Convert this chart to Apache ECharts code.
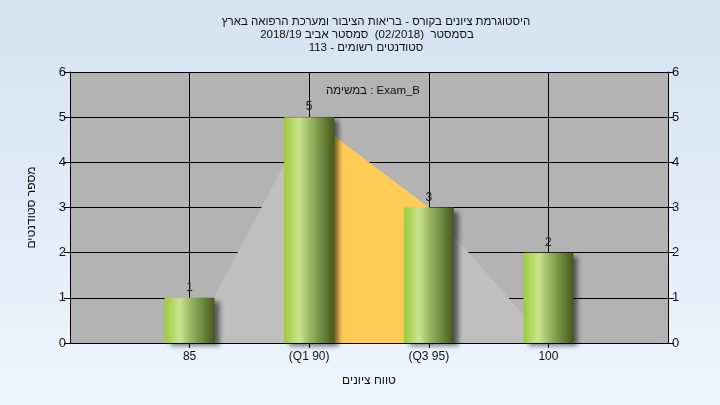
<!DOCTYPE html>
<html><head><meta charset="utf-8">
<script src="https://cdn.jsdelivr.net/npm/echarts@6/dist/echarts.min.js"></script>
<style>html,body{margin:0;padding:0;}#c{width:720px;height:405px;background:linear-gradient(180deg,#d5e2f2 0%,#eef5fd 100%);}</style>
</head><body><div id="c"></div>
<script>
var categories = ['', '85', '(Q1 90)', '(Q3 95)', '100', ''];
var counts = ['-', 1, 5, 3, 2, '-'];
var curveAll = ['-', 0, 5, 3, 0, '-'];
var curveIQR = ['-', '-', 5, 3, '-', '-'];
var yTicks = [0, 1, 2, 3, 4, 5, 6];
var titleLines = ['היסטוגרמת ציונים בקורס - בריאות הציבור ומערכת הרפואה בארץ', 'בסמסטר  (02/2018)  סמסטר אביב 2018/19', 'סטודנטים רשומים - 113'];
var subText = 'במשימה : Exam_B';
var xName = 'טווח ציונים';
var yName = 'מספר סטודנטים';

var chart = echarts.init(document.getElementById('c'), null, {renderer: 'canvas'});
var font = 'Arial, "Liberation Sans", sans-serif';
var barColor = new echarts.graphic.LinearGradient(0, 0, 1, 0, [
  {offset: 0, color: '#9dcb3b'},
  {offset: 0.3, color: '#c9e38f'},
  {offset: 0.6, color: '#8aa756'},
  {offset: 1, color: '#46591c'}
]);
var titleCenters = [371, 362, 361];
var titleTops = [11, 24, 37];
var titles = titleLines.map(function (t, i) {
  return {
    text: t, left: titleCenters[i], top: titleTops[i], textAlign: 'center',
    textStyle: {fontSize: 11.5, fontWeight: 'normal', color: '#111', fontFamily: font}
  };
});
titles.push({
  text: subText, left: 368, top: 80, textAlign: 'center',
  textStyle: {fontSize: 11.5, fontWeight: 'normal', color: '#111', fontFamily: font}
});
chart.setOption({
  animation: false,
  title: titles,
  grid: {left: 70, right: 52, top: 72, bottom: 62, backgroundColor: '#b3b3b3', show: true, borderWidth: 0},
  xAxis: {
    type: 'category', data: categories, boundaryGap: false,
    name: xName, nameLocation: 'middle', nameGap: 32,
    nameTextStyle: {fontSize: 12, color: '#111', fontFamily: font},
    axisLine: {show: true, lineStyle: {color: '#000', width: 1}},
    axisTick: {show: true, length: 5, lineStyle: {color: '#000'}, interval: function(i){return i>0 && i<5;}},
    axisLabel: {color: '#111', fontSize: 12, fontFamily: font, margin: 8, interval: 0},
    splitLine: {show: true, lineStyle: {color: '#000', width: 1}, interval: function(i){return i>0 && i<5;}}
  },
  yAxis: [{
    type: 'value', min: 0, max: 6, interval: 1, position: 'left',
    name: yName, nameLocation: 'middle', nameGap: 32,
    nameTextStyle: {fontSize: 12, color: '#111', fontFamily: font},
    axisLine: {show: true, lineStyle: {color: '#000'}},
    axisTick: {show: true, length: 6, lineStyle: {color: '#000'}},
    axisLabel: {color: '#111', fontSize: 13, fontFamily: font, margin: 4},
    splitLine: {show: true, lineStyle: {color: '#000', width: 1}}
  }, {
    type: 'value', min: 0, max: 6, interval: 1, position: 'right',
    axisLine: {show: true, lineStyle: {color: '#000'}},
    axisTick: {show: true, length: 6, lineStyle: {color: '#000'}},
    axisLabel: {color: '#111', fontSize: 13, fontFamily: font, margin: 4},
    splitLine: {show: false}
  }],
  series: [{
    type: 'line', data: curveAll, symbol: 'none', z: 1,
    lineStyle: {width: 0},
    areaStyle: {color: '#bfbfbf', opacity: 1}
  }, {
    type: 'line', data: curveIQR, symbol: 'none', z: 2,
    lineStyle: {width: 0},
    areaStyle: {color: '#ffcc55', opacity: 1}
  }, {
    type: 'bar', data: counts, barWidth: 50, z: 5,
    itemStyle: {color: barColor, shadowColor: 'rgba(0,0,0,0.55)', shadowBlur: 5, shadowOffsetX: 5, shadowOffsetY: 3},
    label: {show: true, position: 'top', distance: 4, color: '#222', fontSize: 12, fontFamily: font}
  }]
});
</script></body></html>
